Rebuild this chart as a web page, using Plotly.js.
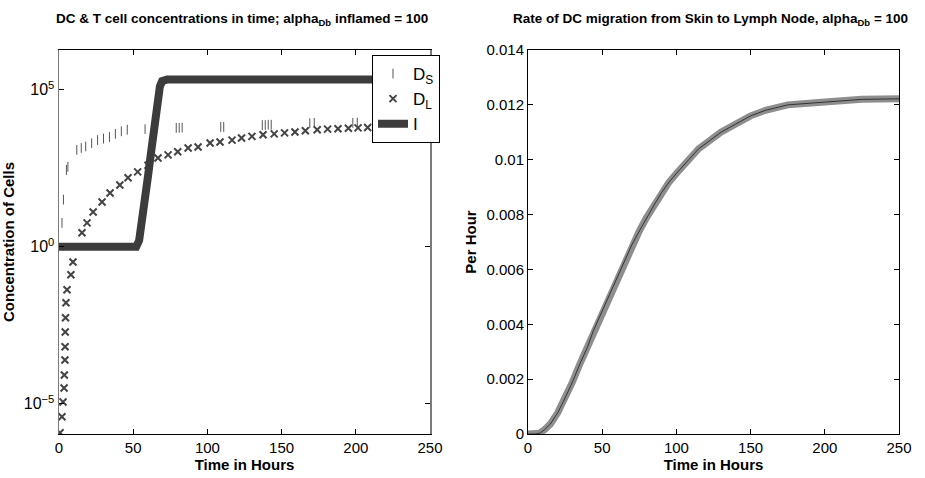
<!DOCTYPE html>
<html>
<head>
<meta charset="utf-8">
<script src="https://cdn.plot.ly/plotly-3.0.1.min.js"></script>
<style>html,body{margin:0;padding:0;background:#fff}#chart{width:925px;height:478px}</style>
</head>
<body>
<div id="chart"></div>
<script>
// ---- Left panel: concentrations (log scale) ----
const timeI = [0, 52, 54, 56, 58, 60, 62, 64, 66, 68, 69.5, 71, 73, 250];
const valI  = [1, 1, 1.6, 6, 30, 180, 1000, 6000, 3.5e4, 1.3e5, 1.9e5, 2.1e5, 2.15e5, 2.15e5];

const timeDL = [0.7, 2, 2.7, 3.4, 3.6, 4, 4.1, 4.2, 4.4, 4.7, 5.4, 8, 9.4, 15.5, 18.9, 23, 29, 34.4, 41, 46.5, 53, 60, 66.7, 73.5, 80, 87, 93.7, 101.8, 108.5, 116.6, 123, 130, 137.5, 145, 152, 159, 166, 174, 181, 188, 195, 201.5, 208, 215, 222, 229, 236, 243, 250];
const valDL  = [1.2e-6, 3.9e-6, 1.15e-5, 3.2e-5, 8.3e-5, 2.5e-4, 6.6e-4, 1.95e-3, 5.5e-3, 0.0166, 0.043, 0.129, 0.33, 2.8, 5.8, 12.9, 27, 52, 93, 158, 245, 400, 680, 850, 1070, 1410, 1510, 2040, 2190, 2510, 2950, 3310, 3720, 3980, 4270, 4570, 5010, 5370, 5620, 5750, 6030, 6170, 6310, 6460, 6610, 6760, 6920, 7080, 7240];

const timeDS = [2, 3, 5, 6, 12, 15, 18, 22, 26, 30, 34, 38, 42, 46, 58, 79, 81, 83, 109, 111, 137, 139, 141, 143, 169, 172, 198, 201];
const valDS  = [5.8, 32, 282, 355, 1230, 1410, 1580, 2000, 2510, 2820, 3160, 3980, 4790, 5370, 5620, 6170, 6170, 6310, 6610, 6610, 7590, 7590, 7760, 7760, 8710, 8910, 8910, 9120];

const logTickVals = [1e-5, 1, 1e5];
const logTickText = ["10<sup>−5</sup>", "10<sup>0</sup>", "10<sup>5</sup>"];

// ---- Right panel: migration rate ----
const timeR = [0, 5, 8, 11, 15, 20, 24, 30, 35, 40, 44, 49, 53, 60, 65, 70, 75, 80, 85, 90, 95, 100, 108, 115, 120, 130, 140, 150, 160, 175, 200, 225, 250];
const rateR = [0, 0, 0.00003, 0.00015, 0.00036, 0.00077, 0.0012, 0.0019, 0.00256, 0.00316, 0.00376, 0.00436, 0.00486, 0.0057, 0.0063, 0.0069, 0.0074, 0.0079, 0.00835, 0.0088, 0.00918, 0.0095, 0.0100, 0.0104, 0.0106, 0.0110, 0.0113, 0.0116, 0.0118, 0.0120, 0.0121, 0.0122, 0.01222];
const rateTickVals = [0, 0.002, 0.004, 0.006, 0.008, 0.01, 0.012, 0.014];
const rateTickText = ["0", "0.002", "0.004", "0.006", "0.008", "0.01", "0.012", "0.014"];

const xTicks = [0, 50, 100, 150, 200, 250];

const FONT = "Liberation Sans, Arial, sans-serif";

const traces = [
  {x: timeDS, y: valDS, name: "D<sub>S</sub>", mode: "markers", xaxis: "x", yaxis: "y",
   marker: {symbol: "line-ns-open", size: 7, color: "#555", line: {width: 1, color: "#555"}}},
  {x: timeDL, y: valDL, name: "D<sub>L</sub>", mode: "markers", xaxis: "x", yaxis: "y",
   marker: {symbol: "x-thin-open", size: 7, color: "#444", line: {width: 2, color: "#444"}}},
  {x: timeI, y: valI, name: "I", mode: "lines", xaxis: "x", yaxis: "y",
   line: {color: "#3c3c3c", width: 8, shape: "linear"}},
  {x: timeR, y: rateR, name: "rate", mode: "lines", xaxis: "x2", yaxis: "y2", showlegend: false,
   line: {color: "#8e8e8e", width: 7, shape: "linear"}},
  {x: timeR, y: rateR, name: "rate core", mode: "lines", xaxis: "x2", yaxis: "y2", showlegend: false,
   line: {color: "#333", width: 1, shape: "linear"}, hoverinfo: "skip"}
];

const axisCommon = {
  showgrid: false, zeroline: false, ticks: "inside", ticklen: 5, tickcolor: "#000",
  showline: true, linecolor: "#000", linewidth: 1, mirror: "ticks", automargin: false,
  tickfont: {family: FONT, size: 15, color: "#000"}
};

const layout = {
  width: 925, height: 478,
  margin: {l: 0, r: 0, t: 0, b: 0},
  paper_bgcolor: "#fff", plot_bgcolor: "#fff",
  font: {family: FONT, color: "#000"},
  showlegend: true,
  legend: {x: 372/925, y: 1 - 55/478, xanchor: "left", yanchor: "top",
           bgcolor: "#fff", bordercolor: "#000", borderwidth: 1,
           font: {family: FONT, size: 17, color: "#000"}, tracegroupgap: 4, itemwidth: 30},
  xaxis: Object.assign({}, axisCommon, {domain: [59/925, 430/925], range: [0, 250], tickvals: xTicks,
    title: {text: "<b>Time in Hours</b>", font: {family: FONT, size: 15}, standoff: 4}}),
  yaxis: Object.assign({}, axisCommon, {domain: [1 - 434/478, 1 - 50/478], type: "log", range: [-5.96, 6.27],
    tickvals: logTickVals, ticktext: logTickText, linecolor: "#7a7a7a", linewidth: 1.5,
    tickfont: {family: FONT, size: 16, color: "#000"},
    title: {text: "<b>Concentration of Cells</b>", font: {family: FONT, size: 15}, standoff: 6}}),
  xaxis2: Object.assign({}, axisCommon, {domain: [528/925, 899/925], range: [0, 250], tickvals: xTicks, anchor: "y2",
    title: {text: "<b>Time in Hours</b>", font: {family: FONT, size: 15}, standoff: 4}}),
  yaxis2: Object.assign({}, axisCommon, {domain: [1 - 434/478, 1 - 50/478], range: [0, 0.014], anchor: "x2",
    tickvals: rateTickVals, ticktext: rateTickText,
    title: {text: "<b>Per Hour</b>", font: {family: FONT, size: 15}, standoff: 6}}),
  annotations: [
    {text: "<b>DC & T cell concentrations in time; alpha<sub>Db</sub> inflamed = 100</b>", xref: "paper", yref: "paper",
     x: 242/925, y: 1 - 19/478, xanchor: "center", yanchor: "middle", showarrow: false,
     font: {family: FONT, size: 13.5, color: "#000"}},
    {text: "<b>Rate of DC migration from Skin to Lymph Node, alpha<sub>Db</sub> = 100</b>", xref: "paper", yref: "paper",
     x: 710/925, y: 1 - 19/478, xanchor: "center", yanchor: "middle", showarrow: false,
     font: {family: FONT, size: 13.5, color: "#000"}}
  ]
};

Plotly.newPlot("chart", traces, layout, {staticPlot: true, displayModeBar: false});
</script>
</body>
</html>
